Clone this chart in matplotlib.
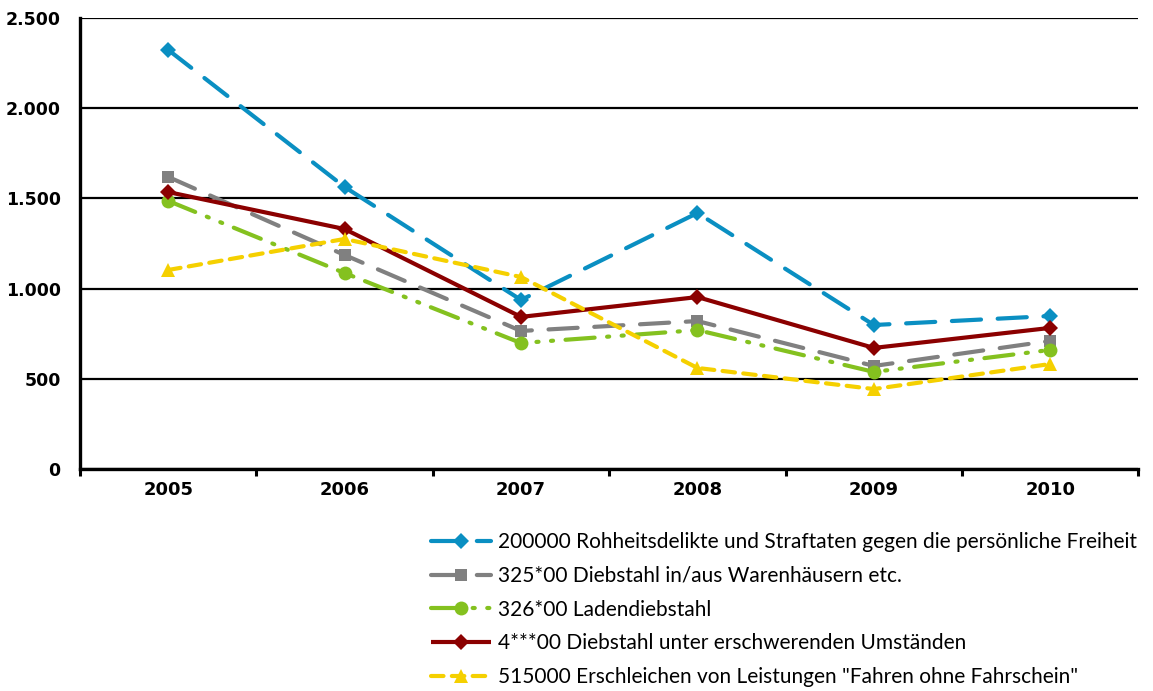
import matplotlib
matplotlib.use("Agg")
import matplotlib.pyplot as plt
from matplotlib.ticker import FuncFormatter, FixedLocator

years = ["2005", "2006", "2007", "2008", "2009", "2010"]

labels = [
    "200000 Rohheitsdelikte und Straftaten gegen die persönliche Freiheit",
    "325*00 Diebstahl in/aus Warenhäusern etc.",
    "326*00 Ladendiebstahl",
    "4***00 Diebstahl unter erschwerenden Umständen",
    "515000 Erschleichen von Leistungen \"Fahren ohne Fahrschein\"",
]

rohheit = [2323, 1563, 937, 1419, 798, 848]
warenhaus = [1619, 1186, 765, 820, 571, 710]
laden = [1486, 1086, 698, 770, 538, 660]
erschwerend = [1535, 1330, 843, 953, 671, 782]
erschleichen = [1103, 1275, 1064, 560, 443, 582]

series = [rohheit, warenhaus, laden, erschwerend, erschleichen]
colors = ["#0a8fc2", "#808080", "#84c11f", "#8b0000", "#f5d000"]
markers = ["D", "s", "o", "D", "^"]
msizes = [8, 9, 10, 8, 10]
dashes = [(7, 4), (7, 4), (7, 3, 0.5, 3, 0.5, 3), None, (3, 2)]

plt.rcParams["font.family"] = ["DejaVu Sans"]

fig = plt.figure(figsize=(11.53, 6.91), dpi=100)
ax = fig.add_axes([0.0694, 0.3213, 0.918, 0.6527])

x = list(range(len(years)))
handles = []
for vals, c, m, ms, d, lab in zip(series, colors, markers, msizes, dashes, labels):
    ls = "-" if d is None else (0, d)
    (h,) = ax.plot(x, vals, color=c, lw=3.0, linestyle=ls, marker=m, markersize=ms,
                   markeredgewidth=0, label=lab, dash_capstyle="round", solid_capstyle="butt")
    handles.append(h)

ax.set_xlim(-0.5, 5.5)
ax.set_ylim(0, 2500)
ax.set_yticks([0, 500, 1000, 1500, 2000, 2500])
ax.yaxis.set_major_formatter(FuncFormatter(lambda v, p: f"{int(v):,}".replace(",", ".")))
ax.yaxis.grid(True, color="black", lw=1.6)
ax.set_axisbelow(True)
ax.set_xticks(x)
ax.set_xticklabels(years)
ax.xaxis.set_minor_locator(FixedLocator([i + 0.5 for i in range(-1, 6)]))
ax.tick_params(axis="x", which="major", length=0, pad=9)
ax.tick_params(axis="x", which="minor", length=5, width=2.2, color="black", direction="out")
ax.tick_params(axis="y", length=0, pad=14)
for lbl in ax.get_xticklabels():
    lbl.set_fontsize(13)
    lbl.set_fontweight("bold")
    lbl.set_fontfamily("DejaVu Sans")
for lbl in ax.get_yticklabels():
    lbl.set_fontsize(12.5)
    lbl.set_fontweight("bold")
    lbl.set_fontfamily("DejaVu Sans")
for s in ["top", "right"]:
    ax.spines[s].set_visible(False)
for s in ["left", "bottom"]:
    ax.spines[s].set_linewidth(2.4)
    ax.spines[s].set_color("black")

leg = fig.legend(handles=handles, loc="upper right", bbox_to_anchor=(0.993, 0.242),
                 frameon=False, prop={"family": ["Lato", "DejaVu Sans"], "size": 15},
                 handlelength=2.9, handletextpad=0.3, labelspacing=0.66, borderaxespad=0)

fig.savefig("out.png", dpi=100)
